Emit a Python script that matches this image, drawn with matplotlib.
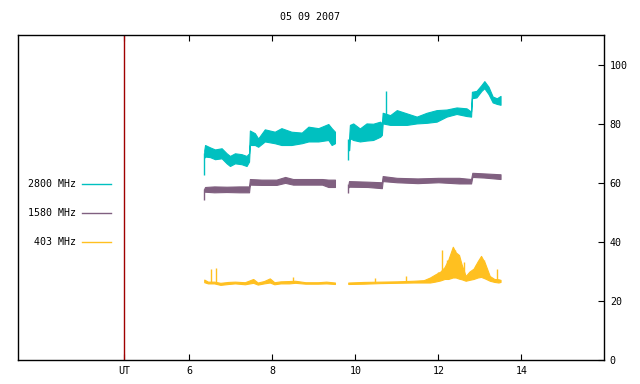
import matplotlib
matplotlib.use('Agg')
import matplotlib.pyplot as plt
from matplotlib.lines import Line2D


# Radio flux, 05 09 2007. Each record is read off the picture as a
# lower and upper edge of the noisy trace at a few times (UT hours).

title = '05 09 2007'
ut_mark = 4.43
xticks = [6, 8, 10, 12, 14]
yticks = [0, 20, 40, 60, 80, 100]

# 2800 MHz
t2800_a = [6.36, 6.38, 6.50, 6.62, 6.78, 6.90, 6.98, 7.10, 7.26, 7.38, 7.44,
           7.46, 7.58, 7.66, 7.82, 8.06, 8.22, 8.46, 8.71, 8.87, 9.11, 9.35, 9.43, 9.51]
lo2800_a = [68.5, 68.9, 68.7, 68.0, 68.3, 66.6, 65.7, 66.6, 66.3, 65.7, 67.2,
            72.8, 72.8, 72.2, 74.0, 73.4, 72.8, 72.8, 73.4, 74.0, 74.0, 74.5, 72.8, 73.4]
hi2800_a = [71.0, 72.8, 72.0, 71.3, 71.7, 70.0, 69.1, 70.0, 69.7, 69.1, 70.0,
            77.7, 76.8, 75.0, 78.1, 77.3, 78.5, 77.3, 77.0, 79.0, 78.5, 79.9, 78.5, 77.3]
t2800_b = [9.85, 9.87, 9.95, 10.11, 10.27, 10.43, 10.60, 10.64, 10.66, 10.84, 11.00,
           11.24, 11.48, 11.72, 11.96, 12.20, 12.44, 12.68, 12.79, 12.81, 12.92,
           13.04, 13.11, 13.21, 13.31, 13.41, 13.50]
lo2800_b = [71.0, 75.1, 74.5, 74.0, 74.3, 74.5, 75.6, 76.2, 80.1, 79.6, 79.6,
            79.6, 80.1, 80.3, 80.7, 82.4, 83.3, 82.6, 82.4, 88.6, 88.9,
            91.1, 92.0, 90.0, 87.2, 86.7, 86.4]
hi2800_b = [75.0, 79.6, 80.1, 78.4, 80.1, 80.0, 80.7, 80.0, 83.7, 82.9, 84.6,
            83.5, 82.4, 83.7, 84.6, 84.8, 85.5, 85.2, 84.1, 90.8, 91.1,
            93.1, 94.4, 92.5, 89.2, 88.6, 89.4]
spk2800 = [(6.354, 62.7, 70.0), (9.832, 67.6, 75.0), (10.75, 80.5, 91.1)]

# 1580 MHz
t1580_a = [6.36, 6.38, 6.60, 6.90, 7.20, 7.44, 7.46, 7.74, 8.10, 8.31, 8.50, 8.90, 9.20, 9.35, 9.51]
lo1580_a = [57.0, 57.0, 56.8, 56.9, 56.8, 56.8, 59.4, 59.3, 59.3, 60.0, 59.4, 59.4, 59.4, 58.6, 58.6]
hi1580_a = [58.0, 58.6, 58.8, 58.7, 58.8, 58.8, 61.3, 61.1, 61.1, 62.0, 61.3, 61.3, 61.3, 61.1, 61.1]
t1580_b = [9.84, 9.85, 10.30, 10.64, 10.66, 11.00, 11.50, 12.00, 12.50, 12.79, 12.82, 13.10, 13.50]
lo1580_b = [58.5, 58.7, 58.6, 58.2, 60.6, 60.2, 59.9, 60.2, 59.8, 59.8, 62.0, 61.8, 61.3]
hi1580_b = [60.0, 60.6, 60.4, 60.2, 62.3, 61.7, 61.5, 61.7, 61.7, 61.3, 63.4, 63.2, 62.9]
spk1580 = [(6.354, 54.3, 58.0), (9.832, 56.5, 59.5)]

# 403 MHz
t403_a = [6.36, 6.45, 6.60, 6.75, 6.94, 7.10, 7.34, 7.54, 7.65, 7.80, 7.94,
          8.05, 8.20, 8.40, 8.55, 8.80, 9.10, 9.30, 9.51]
lo403_a = [26.4, 26.0, 26.0, 25.5, 25.8, 26.0, 25.7, 26.2, 25.6, 26.0, 26.3,
           25.7, 26.0, 26.0, 26.2, 25.9, 25.9, 26.0, 25.8]
hi403_a = [27.3, 26.6, 26.6, 26.2, 26.5, 26.6, 26.4, 27.5, 26.3, 26.8, 27.7,
           26.4, 26.7, 26.8, 26.9, 26.4, 26.4, 26.6, 26.3]
t403_b = [9.83, 10.20, 10.60, 11.00, 11.40, 11.65, 11.80, 11.92, 12.05, 12.15, 12.24,
          12.35, 12.42, 12.50, 12.56, 12.66, 12.75, 12.85, 12.95, 13.03, 13.12,
          13.24, 13.35, 13.45, 13.50]
lo403_b = [25.8, 25.9, 26.1, 26.2, 26.3, 26.3, 26.3, 26.6, 27.0, 27.5, 27.5,
           28.0, 28.0, 27.6, 27.4, 26.9, 27.2, 27.5, 28.0, 28.2, 27.7,
           26.9, 26.5, 26.3, 26.5]
hi403_b = [26.3, 26.5, 26.6, 26.7, 26.9, 27.1, 28.0, 29.0, 30.0, 31.5, 34.0,
           38.4, 36.5, 35.6, 32.5, 28.5, 30.0, 31.0, 33.5, 35.3, 33.0,
           28.5, 27.5, 27.4, 27.2]
spk403 = [(6.53, 26.0, 30.9), (6.65, 26.0, 31.2), (8.51, 26.5, 28.0), (10.47, 26.3, 27.8),
          (11.23, 26.7, 28.6), (11.99, 27.0, 30.0), (12.08, 28.0, 37.3), (12.20, 28.0, 33.9),
          (12.40, 28.0, 37.3), (12.48, 28.0, 35.6), (12.63, 27.5, 33.3), (12.90, 28.0, 32.2),
          (13.10, 28.0, 33.9), (13.42, 27.0, 30.8)]

labels = ['2800 MHz', '1580 MHz', '403 MHz']
colors = ['#00c0c0', '#806080', '#ffc020']

plt.rcParams['font.family'] = 'DejaVu Sans Mono'
plt.rcParams['font.size'] = 7.2

fig = plt.figure(figsize=(6.4, 3.84), dpi=100)
ax = fig.add_axes([18.3 / 640, 23.7 / 384, 586.0 / 640, 325.3 / 384])

series = [
    ([(t2800_a, lo2800_a, hi2800_a), (t2800_b, lo2800_b, hi2800_b)], spk2800),
    ([(t1580_a, lo1580_a, hi1580_a), (t1580_b, lo1580_b, hi1580_b)], spk1580),
    ([(t403_a, lo403_a, hi403_a), (t403_b, lo403_b, hi403_b)], spk403),
]
for (segs, spikes), clr in zip(series, colors):
    for t, lo, hi in segs:
        ax.fill_between(t, lo, hi, color=clr, lw=0.8, edgecolor=clr)
    for x, y0, y1 in spikes:
        ax.vlines(x, y0, y1, color=clr, lw=1.0)

ax.axvline(ut_mark, color='#a00000', lw=1.0)

ax.set_xlim(1.88, 16.0)
ax.set_ylim(0, 110)
ax.set_xticks([ut_mark] + xticks)
ax.set_xticklabels(['UT'] + [str(v) for v in xticks])
ax.set_yticks(yticks)
ax.yaxis.tick_right()
ax.tick_params(axis='x', direction='in', top=True, length=4, width=0.8, pad=4)
ax.tick_params(axis='y', direction='in', left=False, right=True, length=4, width=0.8, pad=4)
for sp in ax.spines.values():
    sp.set_linewidth(1.0)

fig.text(310 / 640, 1 - 17.3 / 384, title, ha='center', va='center')

# legend at the left, text then a short line
for i, (lbl, clr) in enumerate(zip(labels, colors)):
    ypx = 184.3 + 29 * i
    yf = 1 - ypx / 384
    fig.text(76 / 640, yf, lbl, ha='right', va='center')
    fig.add_artist(Line2D([82 / 640, 111 / 640], [yf, yf], color=clr, lw=1.0,
                          transform=fig.transFigure))

fig.savefig('out.png', dpi=100)
